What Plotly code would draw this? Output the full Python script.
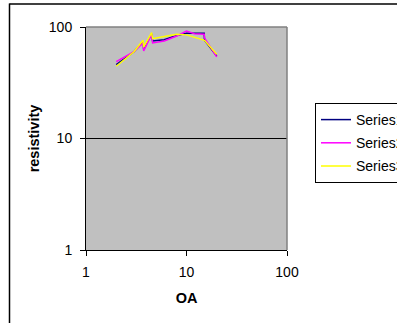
import plotly.graph_objects as go

# Data
oa = [2.0, 3.0, 3.7, 3.75, 4.5, 4.6, 6.0, 8.0, 10.0, 12.0, 15.0, 15.1, 20.0]
series1 = [46, 60, 74, 63, 87, 75, 77, 84, 88, 88, 88, 76, 55]
series2 = [49, 60, 72, 61, 86, 72, 75, 83, 92, 87, 86, 80, 54]
series3 = [44.5, 60, 76, 66, 89, 78.6, 82, 86, 85, 81, 77, 76, 57]

names = ["Series1", "Series2", "Series3"]
colors = ["#000080", "#FF00FF", "#FFFF00"]
values = [series1, series2, series3]

FONT = "Liberation Sans, Arial, sans-serif"

fig = go.Figure()
for i, (nm, col, ys) in enumerate(zip(names, colors, values)):
    fig.add_trace(go.Scatter(x=oa, y=ys, mode="lines", name=nm,
                             line=dict(color=col, width=1.5),
                             legendgroup=nm))

W, H = 397, 323
ml, mr, mt, mb = 86, 110, 27, 73
pw, ph = W - ml - mr, H - mt - mb

def px(x):
    return (x - ml) / pw

def py(y):
    return 1 - (y - mt) / ph

fig.update_layout(
    width=W, height=H,
    margin=dict(l=ml, r=mr, t=mt, b=mb, autoexpand=False),
    paper_bgcolor="white",
    plot_bgcolor="#C0C0C0",
    font=dict(family=FONT, size=14, color="black"),
    showlegend=True,
    legend=dict(x=px(315), y=py(103), xanchor="left", yanchor="top",
                bordercolor="black", borderwidth=1, bgcolor="white",
                font=dict(size=14), traceorder="grouped", tracegroupgap=2),
    xaxis=dict(type="log", range=[0, 2], tickvals=[1, 10, 100],
               ticktext=["1", "10", "100"], ticks="outside", ticklen=5,
               tickcolor="black", showline=True, linecolor="black",
               linewidth=1, showgrid=False, zeroline=False,
               tickfont=dict(size=14), ticklabelstandoff=4,
               title=dict(text="<b>OA</b>", font=dict(size=14.5), standoff=14)),
    yaxis=dict(type="log", range=[0, 2], tickvals=[1, 10, 100],
               ticktext=["1", "10", "100"], ticks="outside", ticklen=5,
               tickcolor="black", showline=True, linecolor="black",
               linewidth=1, showgrid=False, zeroline=False,
               tickfont=dict(size=14), ticklabelstandoff=5,
               title=dict(text="<b>resistivity</b>", font=dict(size=14.5), standoff=5)),
    shapes=[
        dict(type="line", xref="paper", yref="paper", x0=0, x1=1, y0=0.5, y1=0.5,
             line=dict(color="black", width=1), layer="below"),
        dict(type="line", xref="paper", yref="paper", x0=0, x1=1, y0=1, y1=1,
             line=dict(color="#808080", width=1.5)),
        dict(type="line", xref="paper", yref="paper", x0=1, x1=1, y0=0, y1=1,
             line=dict(color="#808080", width=1.5)),
        # outer chart border: top and left edges (others fall outside the window)
        dict(type="line", xref="paper", yref="paper",
             x0=px(9.5), x1=px(W + 5), y0=py(4), y1=py(4),
             line=dict(color="black", width=1.5)),
        dict(type="line", xref="paper", yref="paper",
             x0=px(9.5), x1=px(9.5), y0=py(3.5), y1=py(H + 5),
             line=dict(color="black", width=1.5)),
    ],
)

fig.write_html("out.html", config={"displayModeBar": False},
               post_script="document.body.style.margin='0';document.body.style.overflow='hidden';")
